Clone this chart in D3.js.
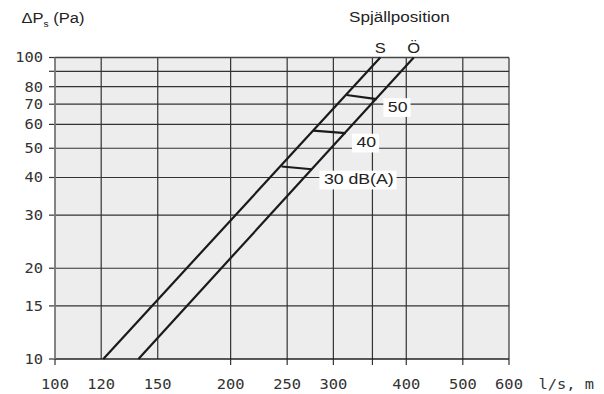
<!DOCTYPE html>
<html><head><meta charset="utf-8">
<script src="https://cdn.jsdelivr.net/npm/d3@7"></script>
<style>html,body{margin:0;padding:0;background:#fff}svg{display:block}</style>
</head><body>
<svg id="c" width="604" height="394"></svg>
<script>
// ---- data ----
const xGrid = [120,150,200,250,300,350,400,500];
const xTicks = [100,200,250,300,350,400,500,600];
const xLabels = [100,120,150,200,250,300,400,500,600];
const yGrid = [15,20,30,40,50,60,70,80,90];
const yTicks = [10,15,20,30,40,50,60,70,80,90,100];
const yLabels = [10,15,20,30,40,50,60,70,80,100];
const damperNames = ["S","Ö"];
const damperS = [[121,10],[361,100]];
const damperO = [[139,10],[412,100]];
const soundNames = ["50","40","30 dB(A)"];
const soundSegments = [
  [[316,75.1],[356,72.8]],
  [[277,57.2],[315,56.1]],
  [[244.6,43.5],[275.4,42.6]]
];
const soundLabelPos = [[372,66.1],[328.6,50.4],[289,38.0]];

// ---- layout ----
const L=55, R=509, T=57.5, B=359;
const SX=1.14;
const x = d3.scaleLog().domain([100,600]).range([L,R]);
const y = d3.scaleLog().domain([10,100]).range([B,T]);
const svg = d3.select("#c");
const sans = "'Liberation Sans', Arial, Helvetica, sans-serif";
const mono = "'DejaVu Sans Mono', monospace";
function txt(px,py,str,opt){
  const g = svg.append("g").attr("transform",`translate(${px},${py}) scale(${SX},1)`);
  const t = g.append("text").attr("x",0).attr("y",0)
    .attr("font-family",opt.font||sans).attr("font-size",opt.size||15)
    .attr("fill",opt.fill||"#222").attr("text-anchor",opt.anchor||"start");
  if(opt.dy) t.attr("dy",opt.dy);
  if(str!==null) t.text(str);
  return {g,t};
}

svg.append("rect").attr("x",L).attr("y",T).attr("width",R-L).attr("height",B-T).attr("fill","#ededed");

// grid
svg.append("g").selectAll("line").data(xGrid).join("line")
  .attr("x1",d=>x(d)).attr("x2",d=>x(d)).attr("y1",T).attr("y2",B)
  .attr("stroke","#333").attr("stroke-width",1.2);
svg.append("g").selectAll("line").data(yGrid).join("line")
  .attr("y1",d=>y(d)).attr("y2",d=>y(d)).attr("x1",L).attr("x2",R)
  .attr("stroke","#333").attr("stroke-width",1.2);
// ticks
svg.append("g").selectAll("line").data(xTicks).join("line")
  .attr("x1",d=>x(d)).attr("x2",d=>x(d)).attr("y1",B).attr("y2",B+6)
  .attr("stroke","#333").attr("stroke-width",1.2);
svg.append("g").selectAll("line").data(yTicks).join("line")
  .attr("y1",d=>y(d)).attr("y2",d=>y(d)).attr("x1",L-6).attr("x2",L)
  .attr("stroke","#333").attr("stroke-width",1.2);
// frame
svg.append("line").attr("x1",L).attr("x2",R).attr("y1",T).attr("y2",T).attr("stroke","#444").attr("stroke-width",1.4);
svg.append("line").attr("x1",R).attr("x2",R).attr("y1",T).attr("y2",B).attr("stroke","#333").attr("stroke-width",1.2);
svg.append("line").attr("x1",L).attr("x2",R).attr("y1",B).attr("y2",B).attr("stroke","#222").attr("stroke-width",1.6);
svg.append("line").attr("x1",L).attr("x2",L).attr("y1",T).attr("y2",B).attr("stroke","#777").attr("stroke-width",1.8);

// tick labels
yLabels.forEach(v=>txt(43,y(v),String(v),{font:mono,size:13.5,anchor:"end",dy:"0.36em",fill:"#333"}));
xLabels.forEach(v=>txt(x(v),389,String(v),{font:mono,size:13.5,anchor:"middle",fill:"#333"}));
txt(538.5,389,"l/s, m",{font:mono,size:13.5,fill:"#333"});

// damper lines
const line = d3.line().x(d=>x(d[0])).y(d=>y(d[1]));
[damperS,damperO].forEach((d,i)=>{
  svg.append("path").attr("d",line(d)).attr("fill","none").attr("stroke","#1a1a1a").attr("stroke-width",2.2);
  const top = d[d.length-1];
  txt(x(top[0]),y(top[1])-4.5,damperNames[i],{size:14.5,anchor:"middle"});
});
soundSegments.forEach(s=>{
  svg.append("path").attr("d",line(s)).attr("fill","none").attr("stroke","#1a1a1a").attr("stroke-width",2.2);
});
// sound labels with white box
soundNames.forEach((n,i)=>{
  const p = soundLabelPos[i];
  const {g,t} = txt(x(p[0]),y(p[1]),n,{size:15.5});
  const bb = t.node().getBBox();
  g.insert("rect","text").attr("x",bb.x-4.5/SX).attr("y",bb.y+0.5).attr("width",bb.width+7.5/SX).attr("height",bb.height+1)
    .attr("fill","#fff");
});

// titles
const tt = txt(21.5,22.5,null,{size:14.5});
tt.t.append("tspan").text("ΔP");
tt.t.append("tspan").attr("font-size",9).attr("dy",4).text("s");
tt.t.append("tspan").attr("dy",-4).text(" (Pa)");
txt(349,21.7,"Spjällposition",{size:15});
</script>
</body></html>
